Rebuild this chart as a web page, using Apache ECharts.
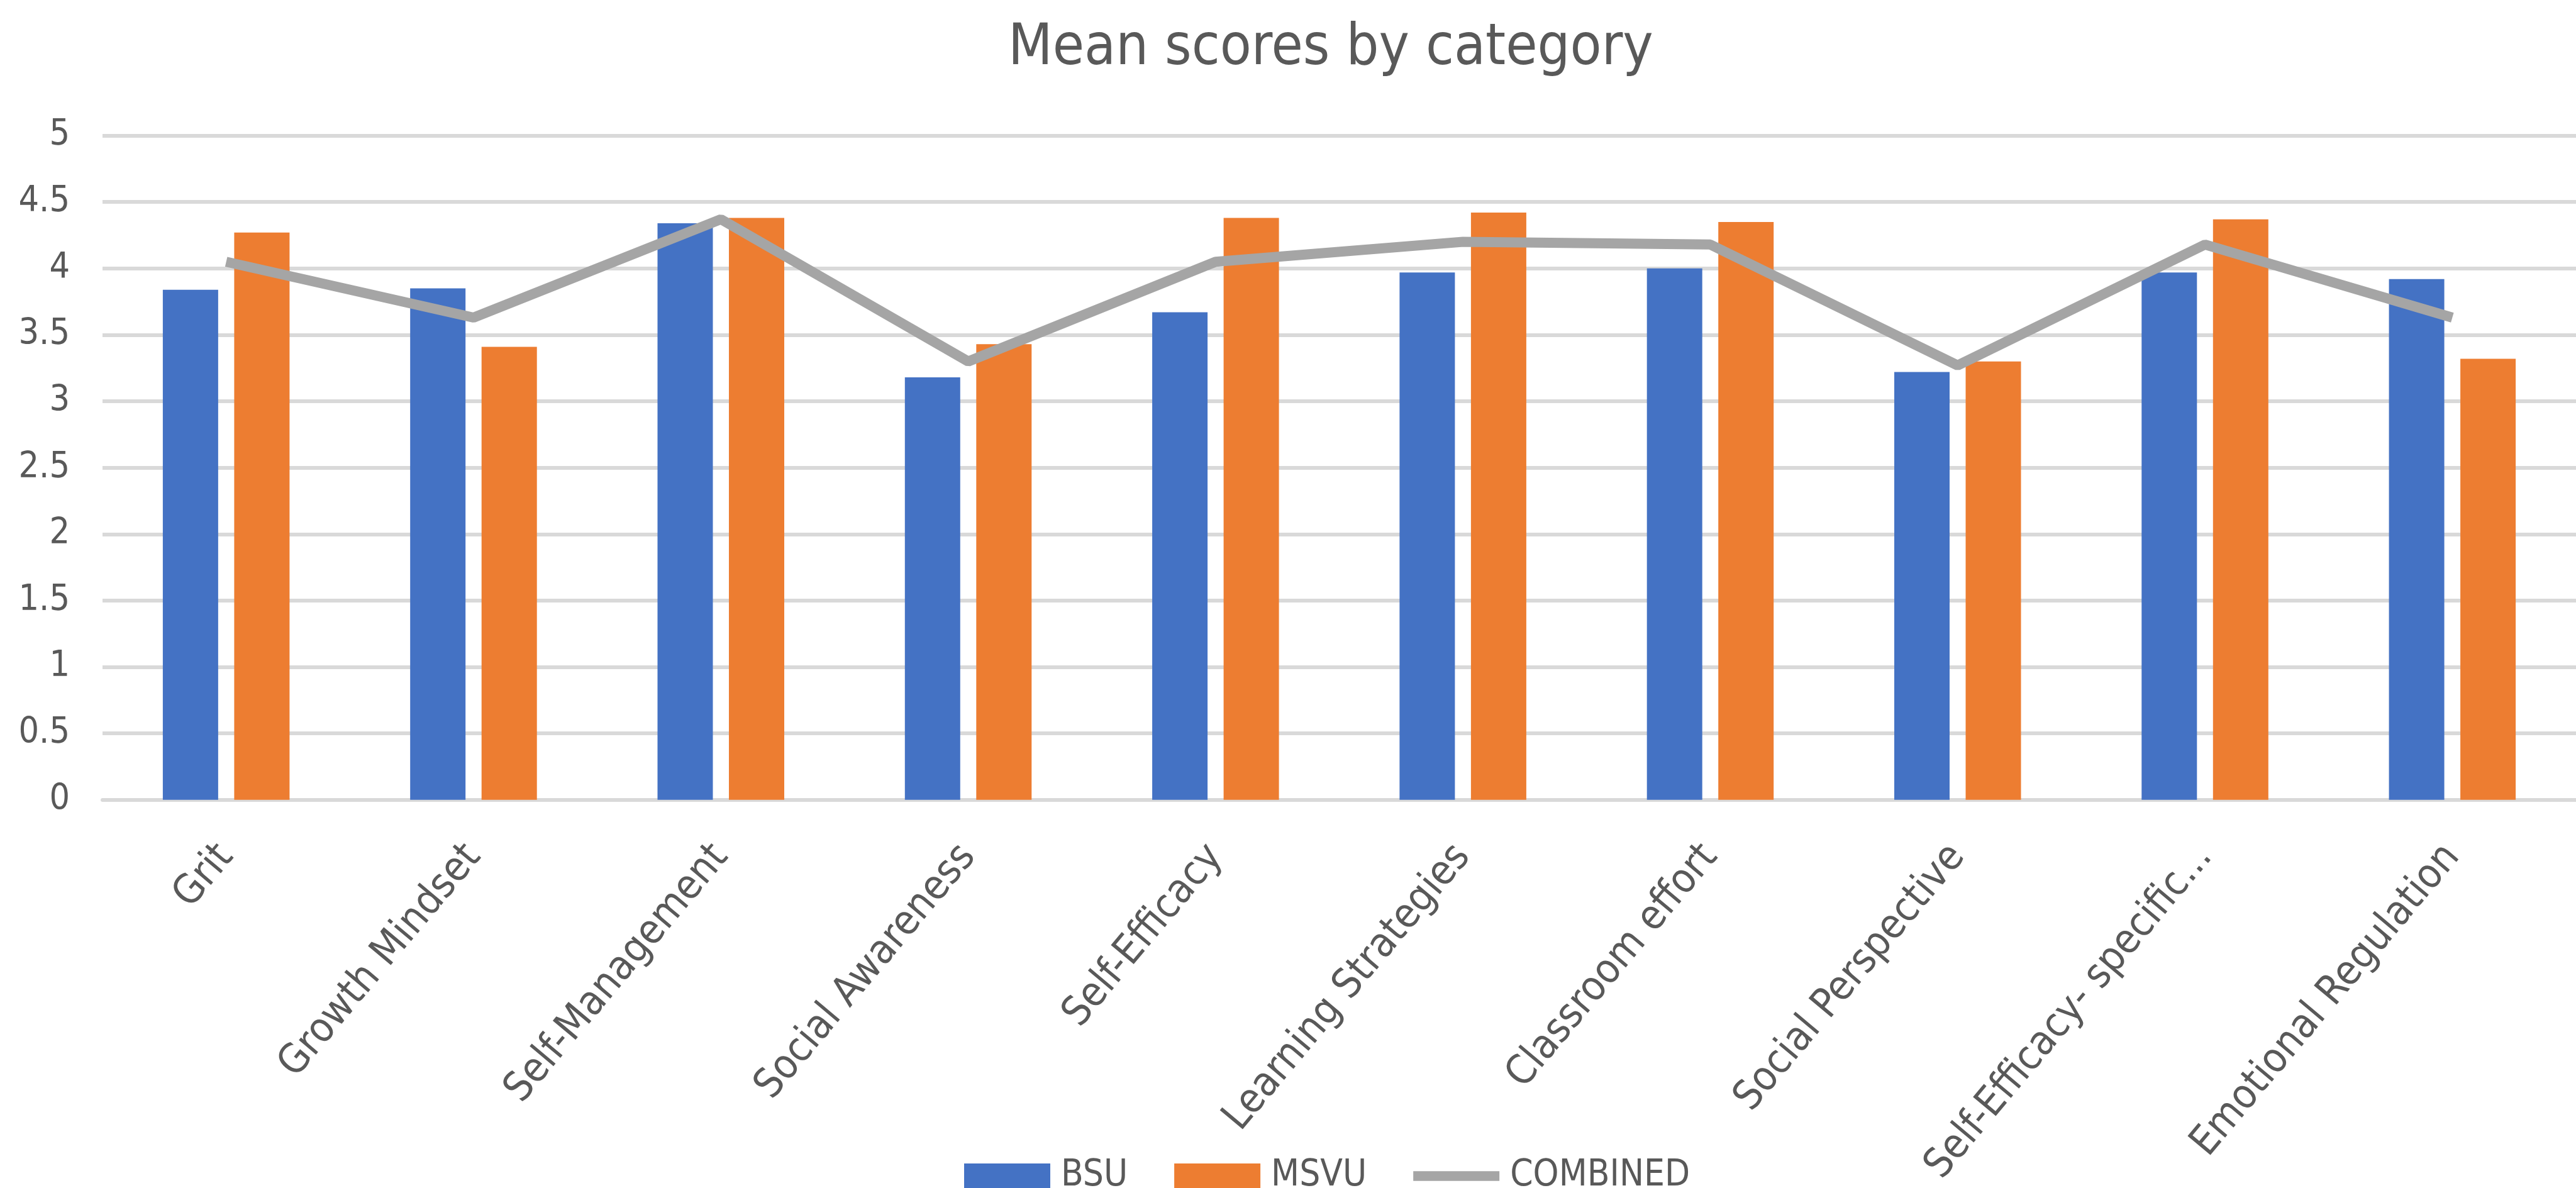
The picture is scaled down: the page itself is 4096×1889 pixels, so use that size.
<!DOCTYPE html>
<html>
<head>
<meta charset="utf-8">
<style>
html,body{margin:0;padding:0;background:#fff;}
#chart{width:4096px;height:1889px;}
</style>
<script src="https://cdn.jsdelivr.net/npm/echarts@6/dist/echarts.min.js"></script>
</head>
<body>
<div id="chart"></div>
<script>
const categories = ["Grit", "Growth Mindset", "Self-Management", "Social Awareness", "Self-Efficacy", "Learning Strategies", "Classroom effort", "Social Perspective", "Self-Efficacy- specific...", "Emotional Regulation"];
const bsu = [3.84, 3.85, 4.34, 3.18, 3.67, 3.97, 4.00, 3.22, 3.97, 3.92];
const msvu = [4.27, 3.41, 4.38, 3.43, 4.38, 4.42, 4.35, 3.30, 4.37, 3.32];
const combined = [4.05, 3.63, 4.37, 3.30, 4.05, 4.20, 4.18, 3.27, 4.18, 3.63];
const seriesNames = ["BSU", "MSVU", "COMBINED"];
const titleText = "Mean scores by category";

const FONT = "'Liberation Sans Narrow', 'DejaVu Sans Condensed', 'Liberation Sans', sans-serif";
const TXT = "#595959";

const chart = echarts.init(document.getElementById('chart'), null, {renderer: 'canvas'});
chart.setOption({
  animation: false,
  backgroundColor: '#ffffff',
  title: {
    text: titleText,
    left: 1598,
    top: 28,
    textStyle: {fontFamily: FONT, fontSize: 91, fontWeight: 'normal', color: TXT}
  },
  legend: {
    data: [
      {name: seriesNames[0], icon: 'rect'},
      {name: seriesNames[1], icon: 'rect'},
      {name: seriesNames[2], icon: 'path://M0,0L150,0L150,17L0,17Z', itemStyle: {color: '#A5A5A5'}}
    ],
    left: 1528,
    top: 1836,
    itemWidth: 137,
    itemHeight: 40,
    itemGap: 74,
    textStyle: {fontFamily: FONT, fontSize: 58, color: TXT, padding: [0, 0, 0, 12]}
  },
  grid: {left: 163, top: 215.6, width: 3934, height: 1075},
  xAxis: {
    type: 'category',
    data: categories,
    boundaryGap: true,
    axisTick: {show: false},
    axisLine: {lineStyle: {color: '#D9D9D9', width: 6}},
    axisLabel: {rotate: 50, margin: 80, fontFamily: FONT, fontSize: 65, color: TXT, interval: 0}
  },
  yAxis: {
    type: 'value',
    min: 0, max: 5, interval: 0.5,
    axisLine: {show: false},
    axisTick: {show: false},
    splitLine: {lineStyle: {color: '#D9D9D9', width: 6}},
    axisLabel: {margin: 52, fontFamily: FONT, fontSize: 57, color: TXT}
  },
  series: [
    {name: seriesNames[0], type: 'bar', data: bsu, barWidth: 88, barGap: '29%', itemStyle: {color: '#4472C4'}},
    {name: seriesNames[1], type: 'bar', data: msvu, barWidth: 88, barGap: '29%', itemStyle: {color: '#ED7D31'}},
    {name: seriesNames[2], type: 'line', data: combined, symbol: 'none', lineStyle: {color: '#A5A5A5', width: 16}, itemStyle: {color: '#A5A5A5'}, z: 5}
  ]
});
</script>
</body>
</html>
